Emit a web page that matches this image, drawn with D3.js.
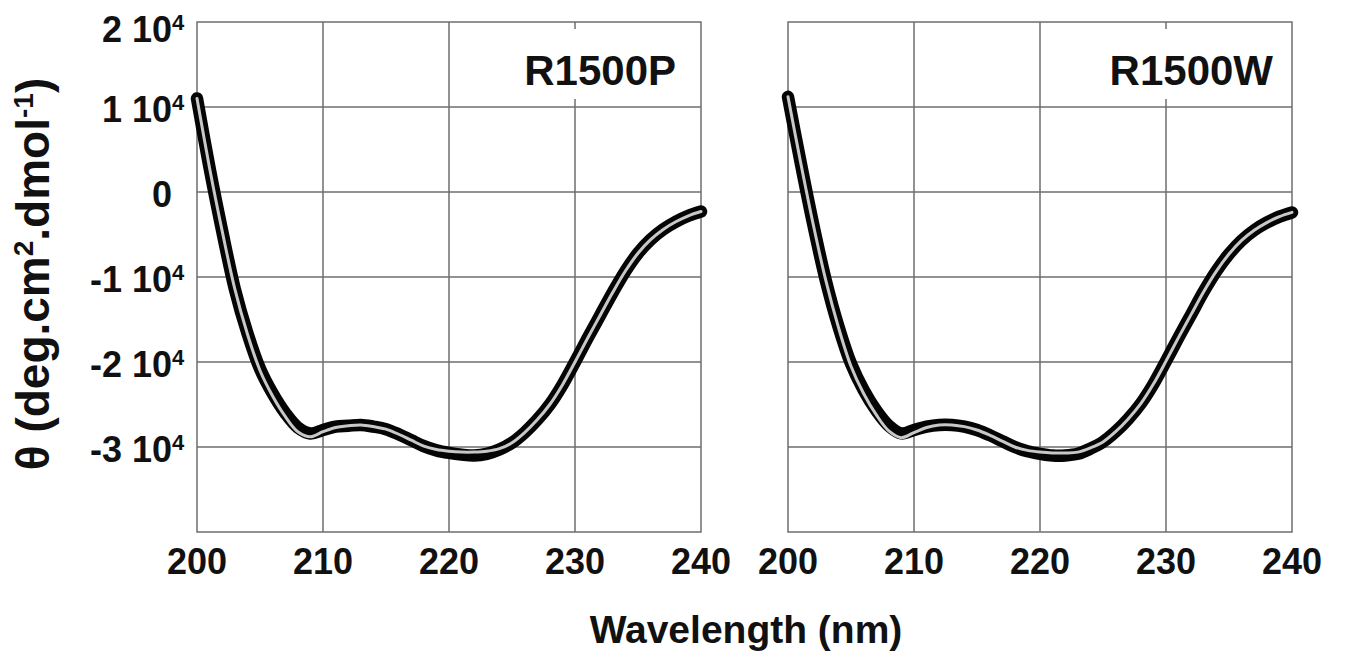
<!DOCTYPE html>
<html>
<head>
<meta charset="utf-8">
<title>CD spectra R1500P / R1500W</title>
<style>
  body { margin: 0; background: #fff; }
  svg { display: block; }
  text { font-family: "Liberation Sans", Arial, sans-serif; font-weight: bold; fill: #111; }
</style>
</head>
<body>
<svg width="1350" height="654"></svg>
<script src="https://d3js.org/d3.v7.min.js"></script>
<script>
// wavelength (nm), one value per nm
const wavelengths = [200,201,202,203,204,205,206,207,208,209,210,211,212,213,214,215,216,217,218,219,220,
                     221,222,223,224,225,226,227,228,229,230,231,232,233,234,235,236,237,238,239,240];

// ellipticity, units of 10^4 deg.cm2.dmol-1
const r1500P = [1.10,0.28,-0.46,-1.14,-1.66,-2.08,-2.37,-2.60,-2.77,-2.84,-2.80,-2.76,-2.75,-2.74,-2.76,-2.79,-2.85,-2.92,-2.99,-3.04,-3.07,
                -3.09,-3.10,-3.08,-3.03,-2.95,-2.83,-2.68,-2.50,-2.27,-2.00,-1.72,-1.45,-1.18,-0.93,-0.72,-0.56,-0.44,-0.35,-0.28,-0.23];
const r1500PFit = [1.10,0.28,-0.46,-1.14,-1.67,-2.10,-2.40,-2.64,-2.82,-2.88,-2.82,-2.77,-2.75,-2.74,-2.76,-2.79,-2.85,-2.92,-2.99,-3.03,-3.05,
                -3.06,-3.06,-3.05,-3.02,-2.95,-2.83,-2.68,-2.50,-2.27,-2.00,-1.72,-1.45,-1.18,-0.93,-0.72,-0.56,-0.44,-0.35,-0.28,-0.23];
const r1500W = [1.12,0.35,-0.38,-1.04,-1.58,-2.02,-2.33,-2.57,-2.75,-2.84,-2.80,-2.76,-2.74,-2.74,-2.76,-2.80,-2.86,-2.93,-3.00,-3.05,-3.08,
                -3.10,-3.10,-3.08,-3.02,-2.94,-2.82,-2.67,-2.49,-2.26,-1.99,-1.71,-1.44,-1.17,-0.93,-0.73,-0.57,-0.45,-0.36,-0.29,-0.24];
const r1500WFit = [1.12,0.35,-0.38,-1.04,-1.59,-2.05,-2.37,-2.62,-2.81,-2.89,-2.83,-2.77,-2.74,-2.74,-2.76,-2.80,-2.86,-2.93,-3.00,-3.04,-3.06,
                -3.07,-3.07,-3.06,-3.01,-2.94,-2.82,-2.67,-2.49,-2.26,-1.99,-1.71,-1.44,-1.17,-0.93,-0.73,-0.57,-0.45,-0.36,-0.29,-0.24];

const xTicks = [200, 210, 220, 230, 240];
const yTicks = [2, 1, 0, -1, -2, -3];
const yTickLabels = ["2 10", "1 10", "0", "-1 10", "-2 10", "-3 10"];

const panels = [
  { name: "R1500P", data: r1500P, fit: r1500PFit, left: 197, right: 701, titleEnd: 676 },
  { name: "R1500W", data: r1500W, fit: r1500WFit, left: 788, right: 1292, titleEnd: 1273 }
];

const plotTop = 22, plotBottom = 532;
const gridColor = "#6e6e6e";

const svg = d3.select("svg");

const y = d3.scaleLinear().domain([-4, 2]).range([plotBottom, plotTop]);

panels.forEach((p, pi) => {
  const x = d3.scaleLinear().domain([200, 240]).range([p.left, p.right]);
  const g = svg.append("g");

  // grid
  g.selectAll("line.v").data(xTicks.slice(1, -1)).join("line")
    .attr("class", "v")
    .attr("x1", d => x(d)).attr("x2", d => x(d))
    .attr("y1", plotTop).attr("y2", plotBottom)
    .attr("stroke", gridColor).attr("stroke-width", 1.5);
  g.selectAll("line.h").data(yTicks.slice(1)).join("line")
    .attr("class", "h")
    .attr("x1", p.left).attr("x2", p.right)
    .attr("y1", d => y(d)).attr("y2", d => y(d))
    .attr("stroke", gridColor).attr("stroke-width", 1.5);

  // panel title with white box over the grid
  const title = g.append("text")
    .attr("x", p.titleEnd).attr("y", 85)
    .attr("text-anchor", "end")
    .attr("font-size", 42)
    .text(p.name);
  const bb = title.node().getBBox();
  g.insert("rect", "text")
    .attr("x", bb.x - 6).attr("y", 29)
    .attr("width", p.right - 3 - (bb.x - 6)).attr("height", 70)
    .attr("fill", "#fff");

  // frame
  g.append("rect")
    .attr("x", p.left).attr("y", plotTop)
    .attr("width", p.right - p.left).attr("height", plotBottom - plotTop)
    .attr("fill", "none").attr("stroke", gridColor).attr("stroke-width", 1.5);

  // curves
  const line = d3.line()
    .x((d, i) => x(wavelengths[i]))
    .y(d => y(d))
    .curve(d3.curveCatmullRom.alpha(0.5));

  g.append("path")
    .attr("d", line(p.data))
    .attr("fill", "none")
    .attr("stroke", "#050505")
    .attr("stroke-width", 12.5)
    .attr("stroke-linecap", "round")
    .attr("stroke-linejoin", "round");

  g.append("path")
    .attr("d", line(p.fit))
    .attr("fill", "none")
    .attr("stroke", "#c8c8c8")
    .attr("stroke-width", 3)
    .attr("stroke-linecap", "round");

  // x tick labels
  g.selectAll("text.xt").data(xTicks).join("text")
    .attr("class", "xt")
    .attr("x", d => x(d)).attr("y", 574)
    .attr("text-anchor", "middle")
    .attr("font-size", 36)
    .text(d => d);

  // y tick labels only on the left panel
  if (pi === 0) {
    yTicks.forEach((t, i) => {
      const ty = Math.max(y(t) + 15, 42);
      g.append("text")
        .attr("x", 172).attr("y", ty)
        .attr("text-anchor", "end")
        .attr("font-size", 36)
        .text(yTickLabels[i]);
      if (t !== 0) {
        g.append("text")
          .attr("x", 172).attr("y", ty - 12)
          .attr("font-size", 22)
          .text("4");
      }
    });
  }
});

// axis titles
svg.append("text")
  .attr("x", 746).attr("y", 643)
  .attr("text-anchor", "middle")
  .attr("font-size", 39)
  .text("Wavelength (nm)");

const yt = svg.append("text")
  .attr("transform", "translate(49,274) rotate(-90)")
  .attr("text-anchor", "middle")
  .attr("font-size", 46);
yt.append("tspan").text("\u03b8 (deg.cm");
yt.append("tspan").attr("font-size", 28).attr("dy", -16).text("2");
yt.append("tspan").attr("dy", 16).text(".dmol");
yt.append("tspan").attr("font-size", 28).attr("dy", -16).text("-1");
yt.append("tspan").attr("dy", 16).text(")");
</script>
</body>
</html>
